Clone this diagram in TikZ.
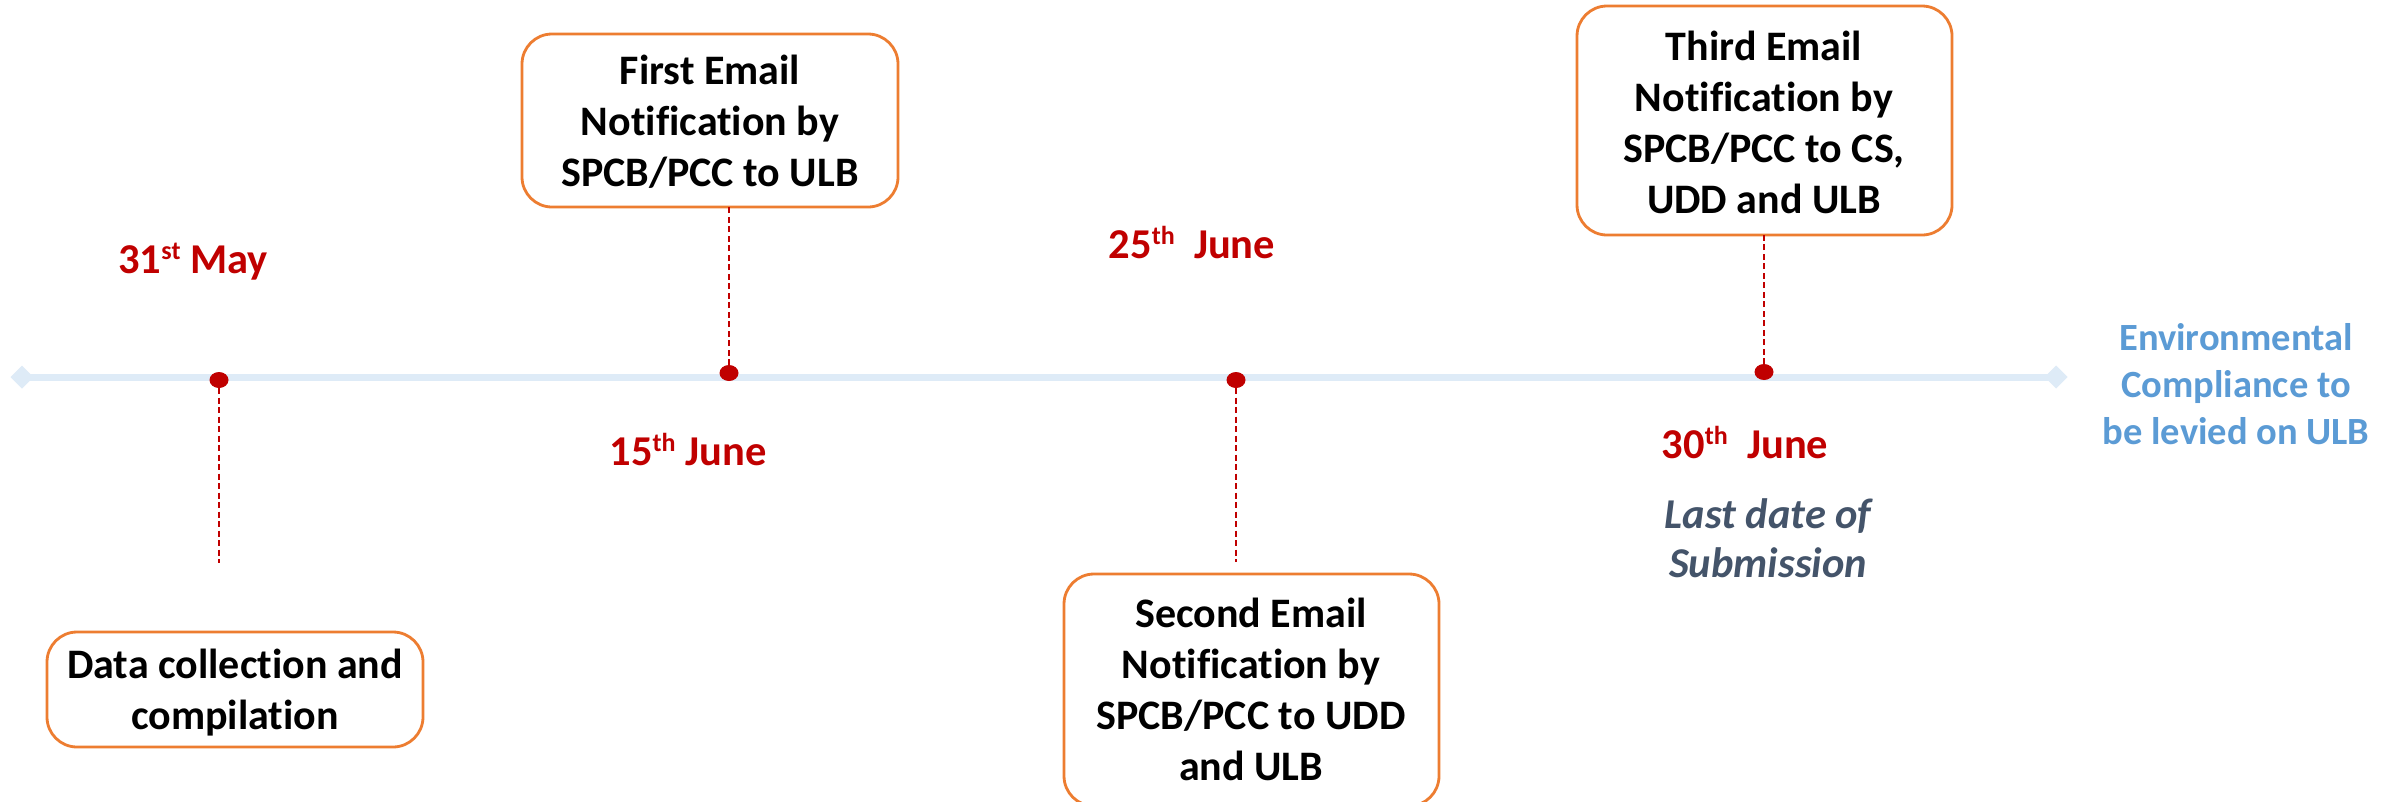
\documentclass[tikz,border=0pt]{standalone}
\usepackage{fontspec}
\setmainfont{Carlito}[Ligatures=NoCommon]
\usetikzlibrary{shapes.geometric}
\definecolor{tlred}{HTML}{C00000}
\definecolor{tlorange}{HTML}{ED7D31}
\definecolor{tlline}{HTML}{DEEBF7}
\definecolor{tlblue}{HTML}{5B9BD5}
\definecolor{tlslate}{HTML}{44546A}
\newcommand\sups[1]{\raisebox{14pt}{\fontsize{26}{26}\selectfont #1}}
\newcommand\hstr{\rule{0pt}{36pt}}
\begin{document}
\begin{tikzpicture}[x=1pt,y=-1pt,
  tlbox/.style={draw=tlorange, line width=2.8pt, rounded corners=30pt, minimum width=376pt, inner sep=0pt, outer sep=0pt},
  btxt/.style={anchor=north, inner sep=0pt, outer sep=0pt, align=center, font=\bfseries\fontsize{42}{51}\selectfont},
  dtxt/.style={anchor=base, inner sep=0pt, outer sep=0pt, text=tlred, font=\bfseries\fontsize{42.5}{49}\selectfont},
  dotm/.style={ellipse, fill=tlred, minimum width=19pt, minimum height=16pt, inner sep=0pt, outer sep=0pt},
  endm/.style={diamond, fill=tlline, minimum width=23pt, minimum height=23pt, inner sep=0pt, outer sep=0pt},
  conn/.style={draw=tlred, line width=1.8pt, dash pattern=on 6pt off 3.5pt}]
\clip (0,0) rectangle (2397,801);
\fill[white] (0,0) rectangle (2397,801);
% timeline
\node[endm] (le) at (22,377) {};
\node[endm] (re) at (2056,377) {};
\draw[line width=7pt, tlline] (le.center) -- (re.center);
% boxes
\node[tlbox, minimum height=115pt] (b1) at (235,689.5) {};
\node[btxt] (t1) at (235,642) {\hstr Data collection and\\compilation};
\node[tlbox, minimum height=173pt] (b2) at (710,120.5) {};
\node[btxt] (t2) at (710,48) {\hstr First Email\\Notification by\\SPCB/PCC to ULB};
\node[tlbox, minimum height=232pt, minimum width=375pt] (b3) at (1251.5,690) {};
\node[btxt] (t3) at (1251,591) {\hstr Second Email\\Notification by\\SPCB/PCC to UDD\\and ULB};
\node[tlbox, minimum height=229pt, minimum width=375pt] (b4) at (1764.5,120.5) {};
\node[btxt] (t4) at (1764,24) {\hstr Third Email\\Notification by\\SPCB/PCC to CS,\\UDD and ULB};
% dots
\node[dotm] (d1) at (219,380) {};
\node[dotm] (d2) at (729,373) {};
\node[dotm] (d3) at (1236,380) {};
\node[dotm] (d4) at (1764,372) {};
% connectors
\coordinate (e1) at (219,563);
\coordinate (e3) at (1236,562);
\draw[conn] (d1) -- (e1);
\draw[conn] (d2) -- (d2 |- b2.south);
\draw[conn] (d3) -- (e3);
\draw[conn] (d4) -- (d4 |- b4.south);
% dates
\node[dtxt] (l1) at (193,273) {31\sups{st} May};
\node[dtxt] (l2) at (688,465) {15\sups{th} June};
\node[dtxt] (l3) at (1192,258) {25\sups{th}\ \ June};
\node[dtxt] (l4) at (1745,458) {30\sups{th}\ \ June};
% notes
\node[anchor=north, align=center, inner sep=0pt, outer sep=0pt, text=tlslate, font=\bfseries\itshape\fontsize{42.5}{49}\selectfont] (sub) at (1768,492) {\hstr Last date of\\Submission};
\node[anchor=north, align=center, inner sep=0pt, outer sep=0pt, text=tlblue, font=\bfseries\fontsize{38.5}{47}\selectfont] (env) at (2236,314) {\hstr Environmental\\Compliance to\\be levied on ULB};
\end{tikzpicture}
\end{document}
